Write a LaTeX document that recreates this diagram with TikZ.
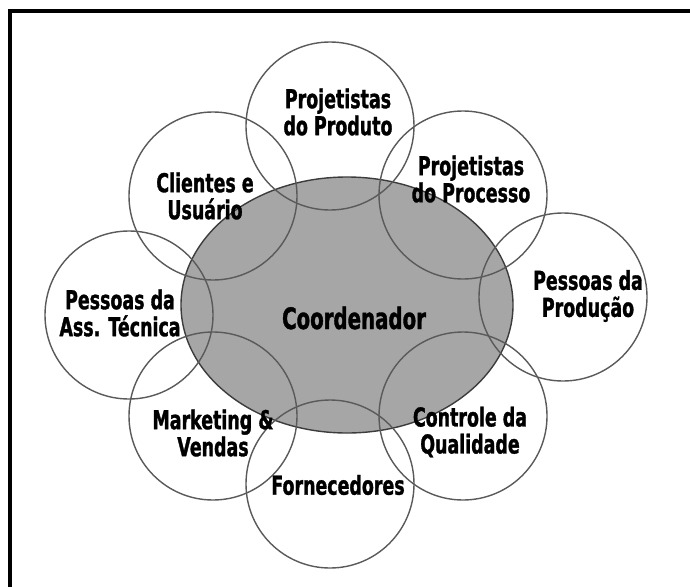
\documentclass[tikz,border=0pt]{standalone}
\usepackage{fontspec}
\setmainfont{DejaVu Sans}[FakeStretch=0.67,FakeBold=1.2]
\usetikzlibrary{shapes.geometric}
\definecolor{ringgray}{RGB}{90,90,90}
\definecolor{ellfill}{RGB}{166,166,166}
\definecolor{ellline}{RGB}{60,60,60}
\tikzset{
  ring/.style={circle, draw=ringgray, line width=1.4pt, minimum size=168pt, inner sep=0pt},
  core/.style={ellipse, draw=ellline, line width=1.4pt, fill=ellfill, minimum width=332pt, minimum height=256pt, inner sep=0pt},
  lbl/.style={align=center, inner sep=0pt, font=\fontsize{26}{27}\selectfont\bfseries, text=black},
  corelbl/.style={inner sep=0pt, font=\fontsize{29.5}{30}\selectfont\bfseries, text=black},
}
\begin{document}
\begin{tikzpicture}[x=1pt,y=-1pt]
\clip (0,0) rectangle (690,586);
\fill[white] (0,0) rectangle (690,586);
\draw[line width=4pt] (10,11) rectangle (720,620);
\node[core] (coord) at (347,305) {};
\node[ring] (cprod) at (330,126) {};
\node[ring] (cclie) at (213,196) {};
\node[ring] (cproc) at (463,195) {};
\node[ring] (cpesp) at (563,297) {};
\node[ring] (cpesa) at (129,315) {};
\node[ring] (cmkt) at (213,416) {};
\node[ring] (cforn) at (330,484) {};
\node[ring] (cctrl) at (463,416) {};
\node[corelbl] (tcoord) at (354,318) {Coordenador};
\node[lbl] (tprod) at (338,112) {Projetistas\\do Produto};
\node[lbl] (tclie) at (205,196) {Clientes e\\Usuário};
\node[lbl] (tproc) at (471,179) {Projetistas\\do Processo};
\node[lbl] (tpesp) at (588,296) {Pessoas da\\Produção};
\node[lbl] (tpesa) at (120,313) {Pessoas da\\Ass. Técnica};
\node[lbl] (tmkt) at (213,433) {Marketing \&\\Vendas};
\node[lbl] (tforn) at (338,485) {Fornecedores};
\node[lbl] (tctrl) at (470,432) {Controle da\\Qualidade};
\end{tikzpicture}
\end{document}
